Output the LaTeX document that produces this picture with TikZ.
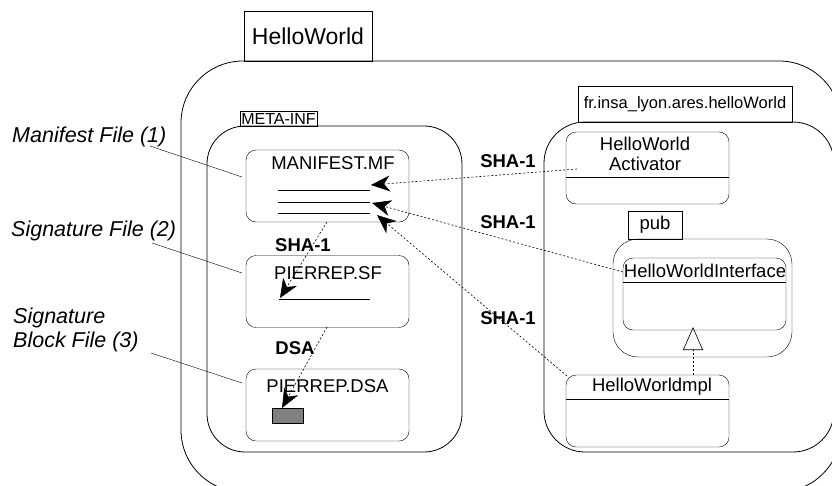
\documentclass[tikz,border=0pt]{standalone}
\usepackage{fontspec}
\setmainfont{Liberation Sans}
\usetikzlibrary{arrows.meta}

\begin{document}
\begin{tikzpicture}[x=1pt, y=-1pt,
  box/.style={draw, rounded corners=10pt, minimum width=163pt, minimum height=72pt, inner sep=0pt},
  tab/.style={draw, inner sep=0pt},
  txt/.style={inner sep=0pt, font=\fontsize{18.5}{20}\selectfont},
  lbl/.style={inner sep=0pt, font=\fontsize{18.5}{20}\selectfont\bfseries},
  note/.style={inner sep=0pt, align=left, font=\fontsize{21.5}{24}\selectfont\itshape},
  dep/.style={line width=0.6pt, dash pattern=on 2pt off 2pt, -{Stealth[length=19pt,width=16pt,inset=6pt]}}]
\useasboundingbox (0,0) rectangle (832,485);
\clip (0,0) rectangle (832,485);

% bundle
\node[draw, rounded corners=62pt, minimum width=660pt, minimum height=431pt, line width=0.8pt] (hw) at (511,276.5) {};
\node[tab, minimum width=128pt, minimum height=50pt, font=\fontsize{23}{25}\selectfont] (hwtab) at (308,36) {HelloWorld};

% META-INF
\node[draw, rounded corners=38pt, minimum width=255pt, minimum height=326pt, line width=0.8pt] (meta) at (334.5,289) {};
\node[tab, minimum width=77pt, minimum height=15pt, font=\fontsize{16}{16}\selectfont] (metatab) at (278.5,118.5) {META-INF};

\node[box] (mf) at (327.5,186) {};
\node[txt] (mftext) at (333,163) {MANIFEST.MF};
\draw (278,190) -- (370,190);
\draw (278,202) -- (370,202);
\draw (278,213) -- (370,213);

\node[box] (sf) at (327.5,291.5) {};
\node[txt] (sftext) at (328,273) {PIERREP.SF};
\draw (279,299) -- (370,299);

\node[box] (dsa) at (327.5,405) {};
\node[txt] (dsatext) at (327.5,386) {PIERREP.DSA};
\node[draw, fill=gray, minimum width=31pt, minimum height=15pt, inner sep=0pt] (sig) at (287.5,415.5) {};

% package
\node[draw, rounded corners=41pt, minimum width=290pt, minimum height=330pt, line width=0.8pt] (pkg) at (689,287) {};
\node[tab, minimum width=214pt, minimum height=36pt, font=\fontsize{16.5}{18}\selectfont] (pkgtab) at (685,104) {fr.insa\_lyon.ares.helloWorld};

\node[box] (act) at (647.5,168) {};
\node[txt, align=center, font=\fontsize{18.5}{20}\selectfont] (acttext) at (645,154) {HelloWorld\\Activator};
\draw (566,177) -- (729,177);

\node[draw, rounded corners=25pt, minimum width=179pt, minimum height=118pt] (pub) at (702.5,298) {};
\node[tab, minimum width=54pt, minimum height=28pt, font=\fontsize{18.5}{20}\selectfont] (pubtab) at (655,225) {pub};

\node[box] (itf) at (704.5,294) {};
\node[txt] (itftext) at (705,271) {HelloWorldInterface};
\draw (623,282) -- (786,282);

\node[box] (impl) at (647.5,411) {};
\node[txt] (impltext) at (652,387) {HelloWorldmpl};
\draw (566,399) -- (729,399);

% connectors
\coordinate (a1) at (577,169);
\coordinate (t1) at (371,185);
\coordinate (a2) at (623,272);
\coordinate (t2) at (372,203);
\coordinate (a3) at (567,376);
\coordinate (t3) at (377,215);
\coordinate (a4) at (327,222);
\coordinate (t4) at (280,298);
\coordinate (a5) at (327,327);
\coordinate (t5) at (282,408);
\path[draw,dep] (a1) -- (t1);
\path[draw,dep] (a2) -- (t2);
\path[draw,dep] (a3) -- (t3);
\path[draw,dep] (a4) -- (t4);
\path[draw,dep] (a5) -- (t5);
\path[draw, line width=0.6pt, dash pattern=on 2pt off 2pt, -{Triangle[open, length=23pt, width=20pt]}] (impl.north -| 693,0) -- (693,327);

\node[lbl] (sha1) at (508,161) {SHA-1};
\node[lbl] (sha2) at (508,222) {SHA-1};
\node[lbl] (sha3) at (508,318) {SHA-1};
\node[lbl] (sha4) at (303,245) {SHA-1};
\node[lbl] (dsalbl) at (295,348) {DSA};

% notes
\node[note, anchor=west] (mfnote) at (12,137) {Manifest File (1)};
\node[note, anchor=west] (sfnote) at (11,231) {Signature File (2)};
\node[note, anchor=west] (dsanote) at (13,330) {Signature\\Block File (3)};
\coordinate (n1) at (150,146);
\coordinate (n2) at (152,243);
\coordinate (n3) at (151,353);
\draw (n1) -- (242,177);
\draw (n2) -- (242,273);
\draw (n3) -- (242,383);
\end{tikzpicture}
\end{document}
